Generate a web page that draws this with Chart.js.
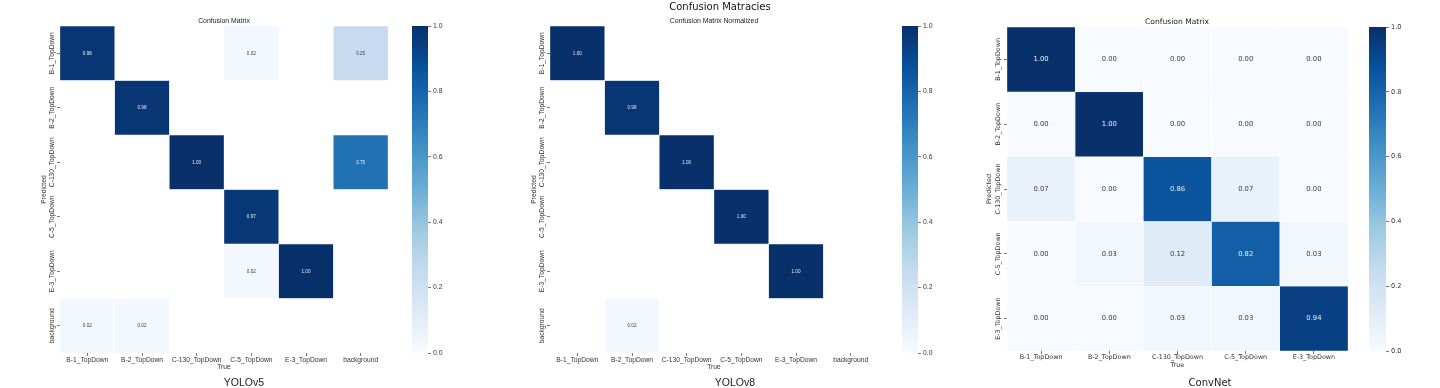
<!DOCTYPE html>
<html>
<head>
<meta charset="utf-8">
<script src="https://cdn.jsdelivr.net/npm/chart.js@4"></script>
<style>
  body { margin: 0; background: #fff; }
  #page { position: relative; width: 1440px; height: 388px; overflow: hidden; }
  canvas { position: absolute; top: 0; }
  .txt { position: absolute; white-space: nowrap; transform: translate(-50%, -50%); color: #222; }
</style>
</head>
<body>
<div id="page"></div>
<script>
// classes (rows = Predicted, columns = True)
var yoloClasses = ['B-1_TopDown', 'B-2_TopDown', 'C-130_TopDown', 'C-5_TopDown', 'E-3_TopDown', 'background'];
var convClasses = ['B-1_TopDown', 'B-2_TopDown', 'C-130_TopDown', 'C-5_TopDown', 'E-3_TopDown'];

// YOLOv5 confusion matrix
var yolov5B1 = [0.98, 0, 0, 0.02, 0, 0.25];
var yolov5B2 = [0, 0.98, 0, 0, 0, 0];
var yolov5C130 = [0, 0, 1.00, 0, 0, 0.75];
var yolov5C5 = [0, 0, 0, 0.97, 0, 0];
var yolov5E3 = [0, 0, 0, 0.02, 1.00, 0];
var yolov5Bg = [0.02, 0.02, 0, 0, 0, 0];

// YOLOv8 confusion matrix (normalized)
var yolov8B1 = [1.00, 0, 0, 0, 0, 0];
var yolov8B2 = [0, 0.98, 0, 0, 0, 0];
var yolov8C130 = [0, 0, 1.00, 0, 0, 0];
var yolov8C5 = [0, 0, 0, 1.00, 0, 0];
var yolov8E3 = [0, 0, 0, 0, 1.00, 0];
var yolov8Bg = [0, 0.02, 0, 0, 0, 0];

// ConvNet confusion matrix
var convB1 = [1.00, 0.00, 0.00, 0.00, 0.00];
var convB2 = [0.00, 1.00, 0.00, 0.00, 0.00];
var convC130 = [0.07, 0.00, 0.86, 0.07, 0.00];
var convC5 = [0.00, 0.03, 0.12, 0.82, 0.03];
var convE3 = [0.00, 0.00, 0.03, 0.03, 0.94];

var colorbarTicks = [0, 0.2, 0.4, 0.6, 0.8, 1.0];

// matplotlib "Blues"
var BLUES = ['#f7fbff', '#deebf7', '#c6dbef', '#9ecae1', '#6baed6', '#4292c6', '#2171b5', '#08519c', '#08306b'];
var BLUES_RGB = BLUES.map(function (h) {
    return [parseInt(h.substr(1, 2), 16), parseInt(h.substr(3, 2), 16), parseInt(h.substr(5, 2), 16)];
});
function bluesRgb(v) {
    var t = Math.max(0, Math.min(1, v)) * 8;
    var i = Math.min(7, Math.floor(t));
    var f = t - i;
    var a = BLUES_RGB[i], b = BLUES_RGB[i + 1];
    return [0, 1, 2].map(function (k) { return Math.round(a[k] + (b[k] - a[k]) * f); });
}
function blues(v) { return 'rgb(' + bluesRgb(v).join(',') + ')'; }
function textColor(v) {
    var c = bluesRgb(v).map(function (x) {
        x = x / 255;
        return x <= 0.03928 ? x / 12.92 : Math.pow((x + 0.055) / 1.055, 2.4);
    });
    var lum = 0.2126 * c[0] + 0.7152 * c[1] + 0.0722 * c[2];
    return lum < 0.408 ? '#eeeeee' : '#3a3a3a';
}

var page = document.getElementById('page');
var H = 388;

function addText(text, cx, cy, font, color) {
    var d = document.createElement('div');
    d.className = 'txt';
    d.textContent = text;
    d.style.left = cx + 'px';
    d.style.top = cy + 'px';
    d.style.font = font;
    if (color) d.style.color = color;
    page.appendChild(d);
}

function makeCanvas(left, width) {
    var c = document.createElement('canvas');
    c.width = width;
    c.height = H;
    c.style.left = left + 'px';
    page.appendChild(c);
    return c.getContext('2d');
}

function heatmap(o) {
    var ctx = makeCanvas(o.left, o.width);
    var aL = o.area[0] - o.left, aT = o.area[1], aR = o.area[2] - o.left, aB = o.area[3];
    var boxLeft = o.predX - o.left - 4;
    var xH = 18;
    var n = o.classes.length;
    var font = { family: o.family, size: o.tickSize };

    var datasets = o.matrix.map(function (row, r) {
        return {
            data: row.map(function (v) {
                return (o.hideZeros && v < 0.005) ? null : [r - 0.5, r + 0.5];
            }),
            backgroundColor: row.map(blues),
            borderColor: o.cellBorder,
            borderWidth: 0.5,
            borderSkipped: false,
            barPercentage: 1,
            categoryPercentage: 1,
            grouped: false
        };
    });

    var cellLabels = {
        id: 'cellLabels',
        afterDatasetsDraw: function (chart) {
            var c = chart.ctx;
            c.save();
            c.font = o.annSize + 'px "' + o.family + '"';
            c.textAlign = 'center';
            c.textBaseline = 'middle';
            o.matrix.forEach(function (row, r) {
                var meta = chart.getDatasetMeta(r);
                row.forEach(function (v, j) {
                    if (o.hideZeros && v < 0.005) return;
                    var p = meta.data[j].getCenterPoint();
                    c.fillStyle = textColor(v);
                    c.fillText(v.toFixed(2), p.x, p.y);
                });
            });
            c.restore();
        }
    };

    var rowLabels = {
        id: 'rowLabels',
        afterDraw: function (chart) {
            var c = chart.ctx, y = chart.scales.y;
            c.save();
            c.font = o.tickSize + 'px "' + o.family + '"';
            c.fillStyle = '#333';
            c.textAlign = 'center';
            c.textBaseline = 'middle';
            o.classes.forEach(function (name, i) {
                c.save();
                c.translate(o.labelX - o.left, y.getPixelForValue(i));
                c.rotate(-Math.PI / 2);
                c.fillText(name, 0, 0);
                c.restore();
            });
            c.restore();
        }
    };

    return new Chart(ctx, {
        type: 'bar',
        data: { labels: o.classes, datasets: datasets },
        options: {
            responsive: false,
            animation: false,
            devicePixelRatio: 1,
            layout: { padding: { left: boxLeft, top: aT, right: o.width - aR, bottom: H - aB - xH } },
            plugins: { legend: { display: false }, tooltip: { enabled: false } },
            scales: {
                x: {
                    grid: { offset: false, drawOnChartArea: false, tickLength: 3, color: '#777' },
                    border: { display: false },
                    ticks: { font: font, color: '#333', padding: 0, maxRotation: 0, autoSkip: false },
                    title: { display: true, text: 'True', padding: 0, font: font, color: '#333' },
                    afterFit: function (s) { s.height = xH; }
                },
                y: {
                    type: 'linear',
                    min: -0.5,
                    max: n - 0.5,
                    reverse: true,
                    afterBuildTicks: function (s) {
                        s.ticks = o.classes.map(function (_, i) { return { value: i }; });
                    },
                    ticks: { display: false },
                    grid: { drawOnChartArea: false, tickLength: 3, color: '#777' },
                    border: { display: false },
                    title: { display: true, text: 'Predicted', padding: 0, font: font, color: '#333' },
                    afterFit: function (s) { s.width = aL - boxLeft; }
                }
            }
        },
        plugins: [cellLabels, rowLabels]
    });
}

function colorbar(o) {
    var w = o.area[2] - o.area[0];
    var ctx = makeCanvas(o.area[0], w + 32);
    return new Chart(ctx, {
        type: 'bar',
        data: {
            labels: [''],
            datasets: [{
                data: [[colorbarTicks[0], colorbarTicks[colorbarTicks.length - 1]]],
                backgroundColor: function (c) {
                    var ca = c.chart.chartArea;
                    if (!ca) return BLUES[4];
                    var g = c.chart.ctx.createLinearGradient(0, ca.bottom, 0, ca.top);
                    BLUES.forEach(function (col, i) { g.addColorStop(i / 8, col); });
                    return g;
                },
                borderWidth: 0,
                barPercentage: 1,
                categoryPercentage: 1
            }]
        },
        options: {
            responsive: false,
            animation: false,
            devicePixelRatio: 1,
            layout: { padding: { left: 0, right: 0, top: o.area[1], bottom: H - o.area[3] } },
            plugins: { legend: { display: false }, tooltip: { enabled: false } },
            scales: {
                x: { display: false },
                y: {
                    position: 'right',
                    min: 0,
                    max: 1,
                    afterBuildTicks: function (s) {
                        s.ticks = colorbarTicks.map(function (v) { return { value: v }; });
                    },
                    ticks: {
                        font: { family: o.family, size: o.tickSize },
                        color: '#333',
                        padding: 2,
                        callback: function (v) { return Number(v).toFixed(1); }
                    },
                    grid: { drawOnChartArea: false, tickLength: 3, color: '#777' },
                    border: { display: false },
                    afterFit: function (s) { s.width = 32; }
                }
            }
        }
    });
}

// YOLOv5
heatmap({
    left: 0, width: 400, area: [60, 26, 388, 353],
    classes: yoloClasses,
    matrix: [yolov5B1, yolov5B2, yolov5C130, yolov5C5, yolov5E3, yolov5Bg],
    hideZeros: true, family: 'Liberation Sans', tickSize: 6.7, annSize: 4.6,
    predX: 44, labelX: 52, cellBorder: 'rgba(255,255,255,0.55)'
});
colorbar({ area: [412, 26, 428, 353], family: 'Liberation Sans', tickSize: 6.8 });

// YOLOv8
heatmap({
    left: 480, width: 410, area: [550, 26, 878, 353],
    classes: yoloClasses,
    matrix: [yolov8B1, yolov8B2, yolov8C130, yolov8C5, yolov8E3, yolov8Bg],
    hideZeros: true, family: 'Liberation Sans', tickSize: 6.7, annSize: 4.6,
    predX: 534, labelX: 542, cellBorder: 'rgba(255,255,255,0.55)'
});
colorbar({ area: [902, 26, 918, 353], family: 'Liberation Sans', tickSize: 6.8 });

// ConvNet
heatmap({
    left: 960, width: 400, area: [1007, 27, 1348, 351],
    classes: convClasses,
    matrix: [convB1, convB2, convC130, convC5, convE3],
    hideZeros: false, family: 'DejaVu Sans', tickSize: 6.4, annSize: 6.8,
    predX: 990, labelX: 998, cellBorder: 'rgba(255,255,255,0.8)'
});
colorbar({ area: [1369, 27, 1386, 351], family: 'DejaVu Sans', tickSize: 6.6 });

// titles
addText('Confusion Matracies', 720, 6, '10px "DejaVu Sans"', '#111');
addText('Confusion Matrix', 224, 20, '6.9px "Liberation Sans"');
addText('Confusion Matrix Normalized', 714, 20, '6.9px "Liberation Sans"');
addText('Confusion Matrix', 1177, 21, '7.6px "DejaVu Sans"');
addText('YOLOv5', 244, 382, '10.5px "Liberation Sans"');
addText('YOLOv8', 735, 382, '10.5px "Liberation Sans"');
addText('ConvNet', 1210, 382, '10px "DejaVu Sans"');
</script>
</body>
</html>
